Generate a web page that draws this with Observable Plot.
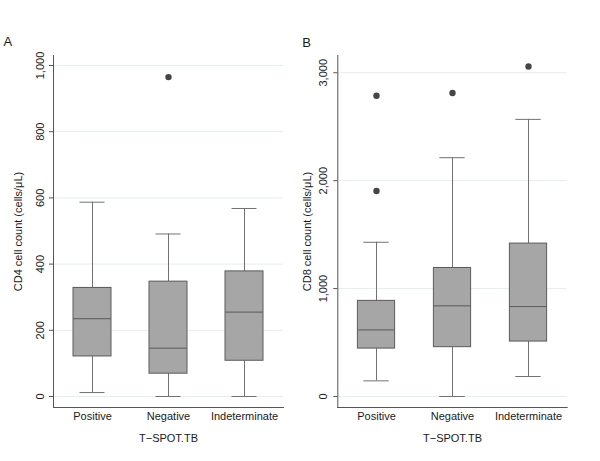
<!DOCTYPE html>
<html>
<head>
<meta charset="utf-8">
<script src="https://cdn.jsdelivr.net/npm/d3@7"></script>
<script src="https://cdn.jsdelivr.net/npm/@observablehq/plot@0.6"></script>
<style>
  html, body { margin: 0; padding: 0; background: white; }
  #wrap { position: relative; width: 600px; height: 461px; overflow: hidden; }
  #wrap svg { position: absolute; top: 0; }
</style>
</head>
<body>
<div id="wrap"></div>
<script>
const categories = ["Positive", "Negative", "Indeterminate"];
const xTitle = "T\u2212SPOT.TB";

// Panel A: CD4
const cd4Lower  = [12, 0, 0];
const cd4Q1     = [121, 69, 108];
const cd4Median = [235, 146, 255];
const cd4Q3     = [328, 347, 378];
const cd4Upper  = [587, 491, 568];
const cd4OutlierGroup = ["Negative"];
const cd4OutlierValue = [965];
const cd4Ticks = [0, 200, 400, 600, 800, 1000];
const cd4Title = "CD4 cell count (cells/\u03bcL)";

// Panel B: CD8
const cd8Lower  = [145, 0, 185];
const cd8Q1     = [444, 457, 509];
const cd8Median = [617, 840, 833];
const cd8Q3     = [886, 1191, 1417];
const cd8Upper  = [1429, 2213, 2568];
const cd8OutlierGroup = ["Positive", "Positive", "Negative", "Indeterminate"];
const cd8OutlierValue = [2787, 1905, 2812, 3058];
const cd8Ticks = [0, 1000, 2000, 3000];
const cd8Title = "CD8 cell count (cells/\u03bcL)";

function panel(o) {
  const rows = categories.map((c, i) => ({
    c, lower: o.lower[i], q1: o.q1[i], median: o.median[i], q3: o.q3[i], upper: o.upper[i]
  }));
  const outliers = o.outGroup.map((g, i) => ({c: g, v: o.outValue[i]}));
  const whisk = "#717171", boxStroke = "#5a5a5a";
  return Plot.plot({
    width: o.width,
    height: 461,
    marginLeft: o.marginLeft,
    marginRight: o.marginRight,
    marginTop: 55,
    marginBottom: 54,
    style: {fontFamily: "'Liberation Sans', Arial, sans-serif", fontSize: "11px", color: "#1a1a1a", background: "white"},
    x: {type: "band", domain: categories, padding: 0, axis: null},
    y: {domain: o.domain},
    marks: [
      Plot.gridY(o.ticks, {stroke: "#e4edef", strokeOpacity: 1}),
      Plot.ruleX(rows, {x: "c", y1: "q3", y2: "upper", stroke: whisk}),
      Plot.ruleX(rows, {x: "c", y1: "lower", y2: "q1", stroke: whisk}),
      Plot.tickY(rows, {x: "c", y: "upper", stroke: whisk, insetLeft: o.capInset, insetRight: o.capInset}),
      Plot.tickY(rows, {x: "c", y: "lower", stroke: whisk, insetLeft: o.capInset, insetRight: o.capInset}),
      Plot.barY(rows, {x: "c", y1: "q1", y2: "q3", fill: "#a6a6a6", stroke: boxStroke, insetLeft: o.boxInset, insetRight: o.boxInset}),
      Plot.tickY(rows, {x: "c", y: "median", stroke: boxStroke, insetLeft: o.boxInset, insetRight: o.boxInset}),
      Plot.dot(outliers, {x: "c", y: "v", r: 3.2, fill: "#454545", stroke: null}),
      Plot.frame({anchor: "left", stroke: "#555"}),
      Plot.frame({anchor: "bottom", stroke: "#555"}),
      Plot.axisY({ticks: o.ticks, tickSize: 4, tickFormat: () => "", stroke: "#555", label: null}),
      Plot.text(o.ticks, {y: d => d, text: d => d3.format(",")(d), frameAnchor: "left", dx: o.tickDx, rotate: -90, textAnchor: "middle", lineAnchor: "middle"}),
      Plot.text(categories, {x: d => d, text: d => d, frameAnchor: "bottom", dy: 9, lineAnchor: "middle"}),
      Plot.text([xTitle], {text: d => d, frameAnchor: "bottom", dy: 31, lineAnchor: "middle"}),
      Plot.text([o.yTitle], {text: d => d, frameAnchor: "left", dx: o.titleDx, rotate: -90, textAnchor: "middle", lineAnchor: "middle"}),
      Plot.text([o.panelLabel], {text: d => d, frameAnchor: "top-left", dx: o.panelDx, dy: o.panelDy, textAnchor: "start", lineAnchor: "bottom", fontSize: 13})
    ]
  });
}

const left = panel({
  width: 295, marginLeft: 53, marginRight: 12,
  domain: [-33.2, 1030.2], ticks: cd4Ticks,
  lower: cd4Lower, q1: cd4Q1, median: cd4Median, q3: cd4Q3, upper: cd4Upper,
  outGroup: cd4OutlierGroup, outValue: cd4OutlierValue,
  yTitle: cd4Title, panelLabel: "A",
  boxInset: 19, capInset: 25.5, tickDx: -13, titleDx: -35, panelDx: -50, panelDy: -9.5
});
left.style.left = "0px";

const right = panel({
  width: 305, marginLeft: 42.3, marginRight: 33.3,
  domain: [-102, 3160], ticks: cd8Ticks,
  lower: cd8Lower, q1: cd8Q1, median: cd8Median, q3: cd8Q3, upper: cd8Upper,
  outGroup: cd8OutlierGroup, outValue: cd8OutlierValue,
  yTitle: cd8Title, panelLabel: "B",
  boxInset: 19.4, capInset: 25.3, tickDx: -14, titleDx: -30, panelDx: -35.6, panelDy: -9
});
right.style.left = "295px";

const wrap = document.getElementById("wrap");
wrap.appendChild(left);
wrap.appendChild(right);
</script>
</body>
</html>
